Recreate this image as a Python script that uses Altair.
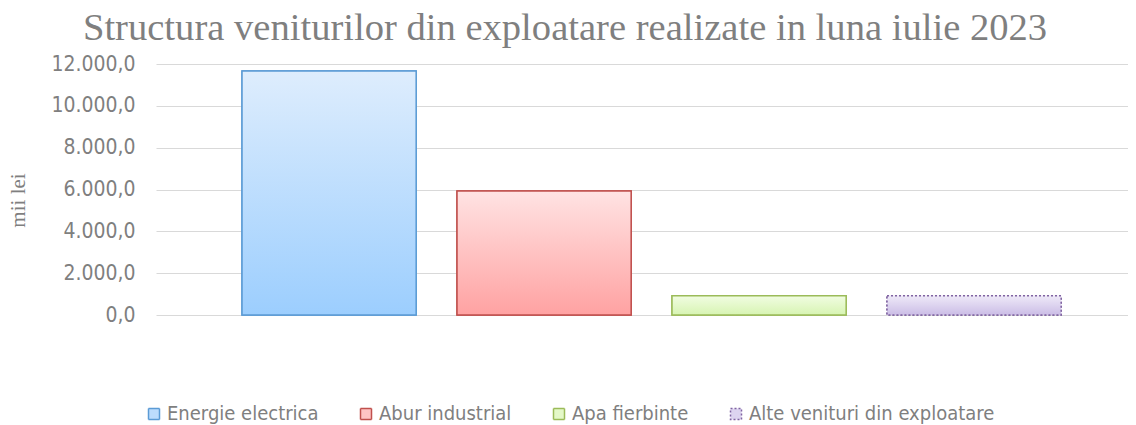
import altair as alt
import pandas as pd

categories = ["Energie electrica", "Abur industrial", "Apa fierbinte", "Alte venituri din exploatare"]
values = [11670, 5930, 925, 915]
y_ticks = [0, 2000, 4000, 6000, 8000, 10000, 12000]

legend_fill = ["#bcdcfd", "#ffc4c4", "#e4f8c8", "#ddd4f0"]
stroke_cols = ["#5b9bd5", "#c0504d", "#9bbb59", "#8064a2"]
grad_top = ["#deedfd", "#ffe3e3", "#f1fde2", "#eee9f8"]
grad_bot = ["#9ccefe", "#ffa2a2", "#d7f4b2", "#cbbde6"]
dashes = [[1, 0], [1, 0], [1, 0], [2, 2]]

df = pd.DataFrame({"cat": categories, "val": values})

LBL_FONT = "DejaVu Sans Condensed"
GRAY = "#7f7f7f"

x_enc = alt.X("cat:N", sort=categories,
              scale=alt.Scale(domain=categories, paddingInner=0.19, paddingOuter=0.3555,
                              align=0.5627, round=False),
              axis=None)
y_enc = alt.Y("val:Q",
              scale=alt.Scale(domain=[0, 12000], nice=False),
              axis=alt.Axis(values=y_ticks,
                            labelExpr="replace(replace(replace(format(datum.value, ',.1f'), ',', '#'), '.', ','), '#', '.')",
                            grid=True, gridColor="#d9d9d9", gridWidth=1,
                            domain=False, ticks=False, labelPadding=21,
                            labelFont=LBL_FONT, labelFontSize=21, labelColor=GRAY,
                            title="mii lei", titleFont="Liberation Serif", titleFontSize=21,
                            titleFontWeight="normal", titleColor=GRAY,
                            titleX=-138, titleY=136, titleAngle=270,
                            titleAlign="center", titleBaseline="middle"))

base = alt.Chart(df).mark_bar(strokeWidth=1.5).encode(
    x=x_enc,
    y=y_enc,
    fill=alt.Fill("cat:N", sort=categories,
                  scale=alt.Scale(domain=categories, range=legend_fill),
                  legend=alt.Legend(orient="none", legendX=-12, legendY=340,
                                    direction="horizontal", columns=4, title=None,
                                    symbolType="square", symbolSize=121,
                                    symbolStrokeWidth=1.5,
                                    labelFont=LBL_FONT, labelFontSize=20, labelColor=GRAY,
                                    labelLimit=0,
                                    labelOffset=3, columnPadding=37, gridAlign="none")),
    stroke=alt.Stroke("cat:N", sort=categories,
                      scale=alt.Scale(domain=categories, range=stroke_cols)),
    strokeDash=alt.StrokeDash("cat:N", sort=categories,
                              scale=alt.Scale(domain=categories, range=dashes)),
)

layers = [base]
for i, c in enumerate(categories):
    grad = {
        "gradient": "linear",
        "x1": 0, "y1": 0, "x2": 0, "y2": 1,
        "stops": [{"offset": 0, "color": grad_top[i]}, {"offset": 1, "color": grad_bot[i]}],
    }
    layers.append(
        alt.Chart(df).transform_filter(alt.datum.cat == c).mark_bar(
            fill=grad, stroke=stroke_cols[i], strokeWidth=1.5, strokeDash=dashes[i]
        ).encode(x=x_enc, y=y_enc)
    )

chart = alt.layer(*layers).properties(
    width=972, height=251,
    autosize="none",
    padding={"left": 148, "top": 56, "right": 0, "bottom": 110},
    title=alt.Title("Structura veniturilor din exploatare realizate in luna iulie 2023",
                    font="Liberation Serif", fontSize=38.6, fontWeight="normal",
                    color=GRAY, anchor="middle", dx=-77),
).configure_view(stroke=None)

chart.save("out.html", embed_options={"renderer": "svg", "actions": False})
